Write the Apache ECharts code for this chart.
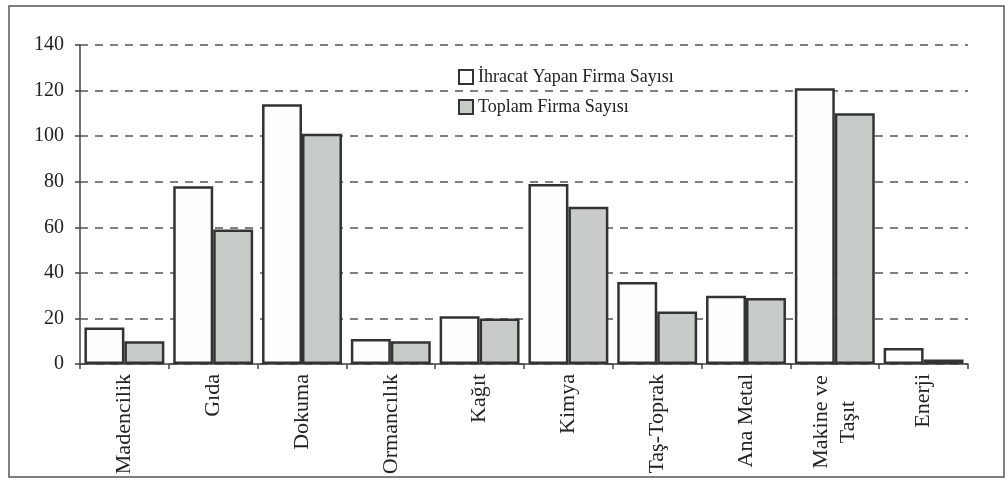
<!DOCTYPE html>
<html>
<head>
<meta charset="utf-8">
<script src="https://cdn.jsdelivr.net/npm/echarts@6/dist/echarts.min.js"></script>
<style>
  html, body { margin: 0; padding: 0; background: #fff; }
  #chart { width: 1008px; height: 481px; }
</style>
</head>
<body>
<div id="chart"></div>
<script>
// sektörler
const categories = ['Madencilik', 'Gıda', 'Dokuma', 'Ormancılık', 'Kağıt', 'Kimya', 'Taş-Toprak', 'Ana Metal', 'Makine ve\nTaşıt', 'Enerji']
// ihracat yapan firma sayısı
const ihracatValues = [16, 78, 114, 11, 21, 79, 36, 30, 121, 7]
// toplam firma sayısı
const toplamValues = [10, 59, 101, 10, 20, 69, 23, 29, 110, 2]
const yTicks = [0, 20, 40, 60, 80, 100, 120, 140]

const serif = '"Liberation Serif", "DejaVu Serif", serif'
const chart = echarts.init(document.getElementById('chart'))

chart.setOption({
  animation: false,
  backgroundColor: '#fff',
  graphic: [{
    type: 'rect',
    shape: { x: 9, y: 6, width: 995, height: 471 },
    style: { fill: 'none', stroke: '#555', lineWidth: 1.5 },
    silent: true
  }],
  grid: { left: 80, right: 40, top: 45, bottom: 117 },
  legend: {
    left: 453,
    top: 63,
    orient: 'vertical',
    itemGap: 12,
    itemWidth: 14,
    itemHeight: 14,
    icon: 'rect',
    textStyle: { fontFamily: serif, fontSize: 18, color: '#222' },
    data: ['İhracat Yapan Firma Sayısı', 'Toplam Firma Sayısı']
  },
  xAxis: {
    type: 'category',
    data: categories,
    axisLine: { lineStyle: { color: '#444', width: 1.5 } },
    axisTick: { show: true, length: 5, lineStyle: { color: '#444', width: 1.5 } },
    axisLabel: {
      rotate: 90,
      interval: 0,
      margin: 10,
      fontFamily: serif,
      fontSize: 22,
      color: '#222',
      lineHeight: 27,
      // iki satırlı etiket ortalansın
      formatter: function (v) {
        if (v.indexOf('\n') < 0) return v
        return v.split('\n').map(s => '{c|' + s + '}').join('\n')
      },
      rich: {
        c: { width: 96, align: 'center', fontFamily: serif, fontSize: 22, lineHeight: 27, color: '#222' }
      }
    }
  },
  yAxis: {
    type: 'value',
    min: yTicks[0],
    max: yTicks[yTicks.length - 1],
    interval: 20,
    axisLine: { show: true, lineStyle: { color: '#444', width: 1.5 } },
    axisTick: { show: true, length: 5, lineStyle: { color: '#444', width: 1.5 } },
    axisLabel: { margin: 16, fontFamily: serif, fontSize: 20, color: '#222' },
    splitLine: { lineStyle: { color: '#555', type: [8, 7], width: 1.5 } }
  },
  series: [
    {
      name: 'İhracat Yapan Firma Sayısı',
      type: 'bar',
      data: ihracatValues,
      barGap: 0,
      barCategoryGap: '10%',
      itemStyle: { color: '#fdfdfd', borderColor: '#333', borderWidth: 2.5 }
    },
    {
      name: 'Toplam Firma Sayısı',
      type: 'bar',
      data: toplamValues,
      barGap: 0,
      barCategoryGap: '10%',
      itemStyle: { color: '#c7ccc8', borderColor: '#333', borderWidth: 2.5 }
    }
  ]
})
</script>
</body>
</html>
